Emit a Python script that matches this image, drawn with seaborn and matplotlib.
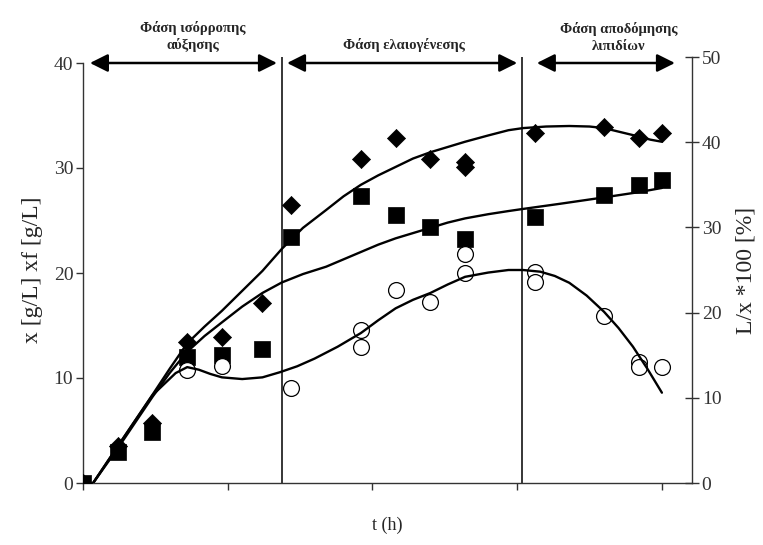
import matplotlib
matplotlib.use("Agg")
import matplotlib.pyplot as plt
import seaborn as sns
import pandas as pd

# ---------------- data ----------------
# measured points, biomass x [g/L] (diamonds)
t_x = [0, 12, 24, 36, 48, 62, 72, 96, 108, 120, 132, 132, 156, 180, 192, 200]
x_vals = [0, 3.5, 5.7, 13.4, 13.9, 17.1, 26.5, 30.9, 32.9, 30.9, 30.6, 30.1, 33.3, 33.9, 32.9, 33.3]
# fat-free biomass xf [g/L] (squares)
t_xf = [0, 12, 24, 36, 48, 62, 72, 96, 108, 120, 132, 156, 180, 192, 200]
xf_vals = [0, 3.0, 4.9, 12.0, 12.2, 12.8, 23.4, 27.3, 25.5, 24.4, 23.2, 25.3, 27.4, 28.4, 28.9]
# lipid content L/x*100 [%] (open circles, right axis)
t_lx = [36, 48, 72, 96, 96, 108, 120, 132, 132, 156, 156, 180, 192, 192, 200]
lx_vals = [13.3, 13.7, 11.2, 18.0, 16.0, 22.7, 21.2, 26.9, 24.6, 24.8, 23.6, 19.6, 14.2, 13.6, 13.6]

# fitted curves
tc_x = [3.5, 12, 24, 30, 36, 42, 48, 55, 62, 68.7, 76, 84, 90, 96, 102, 108, 114, 120,
        126, 132, 140, 147, 152, 160, 168, 175, 180, 186, 192, 196, 200]
xc_vals = [0, 3.5, 8.4, 10.9, 13.3, 14.9, 16.4, 18.3, 20.2, 22.3, 24.3, 26.0, 27.3, 28.4,
           29.3, 30.1, 30.9, 31.5, 32.0, 32.5, 33.1, 33.6, 33.8, 33.95, 34.0, 33.95, 33.8,
           33.4, 33.0, 32.7, 32.5]
tc_xf = [3.5, 12, 24, 30, 36, 42, 48, 55, 62, 68.7, 76, 84, 90, 96, 102, 108, 114, 120,
         126, 132, 140, 147, 152, 165, 180, 192, 200]
xfc_vals = [0, 3.3, 8.2, 10.5, 12.5, 14.0, 15.3, 16.8, 18.1, 19.1, 19.9, 20.6, 21.3, 22.0,
            22.7, 23.3, 23.8, 24.3, 24.8, 25.2, 25.6, 25.9, 26.1, 26.6, 27.2, 27.7, 28.1]
tc_lx = [3.5, 12, 24, 32, 36, 40, 44, 48, 55, 62, 68, 74, 80, 88, 96, 102, 108, 114, 120,
         126, 132, 140, 147, 152, 158, 163, 168, 174, 180, 185, 190, 195, 200]
lxc_vals = [0, 4.3, 10.3, 12.9, 13.6, 13.3, 12.8, 12.4, 12.2, 12.4, 13.0, 13.7, 14.6, 16.0,
            17.6, 19.1, 20.5, 21.5, 22.3, 23.3, 24.2, 24.7, 25.0, 25.0, 24.8, 24.3, 23.5,
            22.0, 20.1, 18.2, 16.0, 13.4, 10.6]

# phases
phase_bounds = [68.7, 151.6]
phase_arrows = [(2.4, 67.0), (70.5, 150.0), (156.8, 204.5)]
phase_labels = ["Φάση ισόρροπης\nαύξησης", "Φάση ελαιογένεσης", "Φάση αποδόμησης\nλιπιδίων"]
phase_label_x = [38, 111, 185]

x_ticks = [0, 50, 100, 150, 200]
left_ticks = [0, 10, 20, 30, 40]
right_ticks = [0, 10, 20, 30, 40, 50]

# ---------------- style ----------------
sns.set_theme(style="ticks")
plt.rcParams["font.family"] = ["Liberation Serif", "DejaVu Serif"]
plt.rcParams["axes.linewidth"] = 1.0

fig = plt.figure(figsize=(7.63, 5.45), dpi=100)
ax = fig.add_axes([83 / 763, 62 / 545, (692 - 83) / 763, (483 - 57) / 545])
ax2 = ax.twinx()

df_x = pd.DataFrame({"t": t_x, "v": x_vals})
df_xf = pd.DataFrame({"t": t_xf, "v": xf_vals})
df_lx = pd.DataFrame({"t": t_lx, "v": lx_vals})
dc_x = pd.DataFrame({"t": tc_x, "v": xc_vals})
dc_xf = pd.DataFrame({"t": tc_xf, "v": xfc_vals})
dc_lx = pd.DataFrame({"t": tc_lx, "v": lxc_vals})

# vertical phase lines
for b in phase_bounds:
    ax.axvline(b, color="black", lw=1.1, zorder=1)

sns.scatterplot(data=df_xf, x="t", y="v", marker="s", s=120, color="black",
                edgecolor="black", linewidth=0.5, ax=ax, zorder=3)
sns.scatterplot(data=df_x, x="t", y="v", marker="D", s=85, color="black",
                edgecolor="black", linewidth=0.5, ax=ax, zorder=3)
sns.lineplot(data=dc_x, x="t", y="v", color="black", lw=1.7, sort=False,
             estimator=None, ax=ax, zorder=4)
sns.lineplot(data=dc_xf, x="t", y="v", color="black", lw=1.7, sort=False,
             estimator=None, ax=ax, zorder=4)

sns.scatterplot(data=df_lx, x="t", y="v", marker="o", s=130, facecolor="white",
                edgecolor="black", linewidth=0.9, ax=ax2, zorder=3)
sns.lineplot(data=dc_lx, x="t", y="v", color="black", lw=1.7, sort=False,
             estimator=None, ax=ax2, zorder=4)

# axes limits / ticks
ax.set_xlim(0, 210.4)
ax.set_ylim(0, 426 / 10.5)
ax2.set_ylim(0, 50)
ax.set_xticks(x_ticks)
ax.set_xticklabels([])
ax.set_yticks(left_ticks)
ax2.set_yticks(right_ticks)
ax.spines["left"].set_bounds(0, 40)
ax.spines["top"].set_visible(False)
ax2.spines["top"].set_visible(False)
ax2.spines["left"].set_visible(False)
ax2.spines["bottom"].set_visible(False)
ax.spines["right"].set_visible(False)
for sp in ["left", "bottom"]:
    ax.spines[sp].set_color("#333333")
ax2.spines["right"].set_color("#333333")

ax.tick_params(axis="y", direction="out", length=5, width=1, labelsize=14,
               colors="#333333", pad=2)
ax.tick_params(axis="x", direction="out", length=5, width=1, colors="#333333")
ax2.tick_params(axis="y", direction="inout", length=10, width=1, labelsize=14,
                colors="#333333", pad=2)

ax.set_xlabel("t (h)", fontsize=13, labelpad=16)
ax.set_ylabel("x [g/L] xf [g/L]", fontsize=17, labelpad=8)
ax2.set_ylabel("L/x *100 [%]", fontsize=17, labelpad=10)

# phase arrows and labels
for (a, b) in phase_arrows:
    ax.annotate("", xy=(b, 40), xytext=(a, 40), xycoords="data",
                arrowprops=dict(arrowstyle="<|-|>,head_length=0.6,head_width=0.3",
                                color="black", lw=1.8, mutation_scale=18,
                                shrinkA=0, shrinkB=0),
                annotation_clip=False, zorder=5)
for lab, xp in zip(phase_labels, phase_label_x):
    ax.text(xp, 41.0, lab, ha="center", va="bottom", fontsize=10.5,
            fontweight="bold", linespacing=1.35, clip_on=False)

fig.savefig("out.png", dpi=100)
